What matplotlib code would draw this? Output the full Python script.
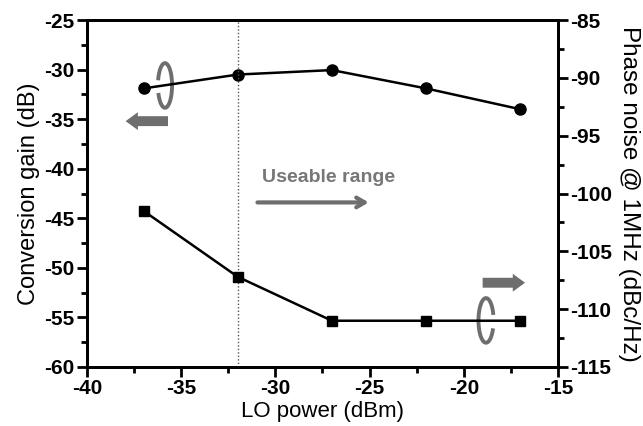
import numpy as np
import matplotlib
matplotlib.use("Agg")
import matplotlib.pyplot as plt
from matplotlib.patches import Arc, FancyArrow
from matplotlib.ticker import MultipleLocator

plt.rcParams['font.family'] = ['Liberation Sans', 'DejaVu Sans']
plt.rcParams['axes.unicode_minus'] = False

lo_power = [-37, -32, -27, -22, -17]
conv_gain = [-31.9, -30.5, -30.05, -31.9, -34.0]
phase_noise = [-101.5, -107.2, -111.0, -111.0, -111.0]

gray = '#6e6e6e'

fig = plt.figure(figsize=(6.43, 4.26), dpi=100)
ax = fig.add_axes([0.1353, 0.1385, 0.7325, 0.8145])
ax2 = ax.twinx()

ax.plot(lo_power, conv_gain, 'k-', marker='o', ms=8, lw=1.8)
ax2.plot(lo_power, phase_noise, 'k-', marker='s', ms=7.5, lw=1.8)

ax.axvline(-32, color='#555555', ls=(0, (1, 1.5)), lw=1)

ax.set_xlim(-40, -15)
ax.set_ylim(-60, -25)
ax2.set_ylim(-115, -85)

ax.xaxis.set_major_locator(MultipleLocator(5))
ax.xaxis.set_minor_locator(MultipleLocator(2.5))
ax.yaxis.set_major_locator(MultipleLocator(5))
ax.yaxis.set_minor_locator(MultipleLocator(2.5))
ax2.yaxis.set_major_locator(MultipleLocator(5))
ax2.yaxis.set_minor_locator(MultipleLocator(2.5))

for a in (ax, ax2):
    for s in a.spines.values():
        s.set_linewidth(2)
    a.tick_params(which='major', direction='out', length=7, width=2, labelsize=15, pad=2)
    a.tick_params(which='minor', direction='out', length=4, width=2)
    for lab in a.get_xticklabels() + a.get_yticklabels():
        lab.set_fontweight('bold')
ax.tick_params(axis='x', which='both', top=False)

ax.set_xlabel('LO power (dBm)', fontsize=16, labelpad=2)
ax.set_ylabel('Conversion gain (dB)', fontsize=17, labelpad=3)
ax2.set_ylabel('Phase noise @ 1MHz (dBc/Hz)', fontsize=17.5, rotation=270, labelpad=20)

# annotations
ax.add_patch(FancyArrow(-35.7, -35.2, -2.25, 0, width=1.0, head_width=1.8,
                        head_length=0.65, length_includes_head=True, color=gray, lw=0))
ax.add_patch(FancyArrow(-19.0, -51.5, 2.25, 0, width=1.0, head_width=1.8,
                        head_length=0.65, length_includes_head=True, color=gray, lw=0))
ax.add_patch(Arc((-35.86, -31.6), 0.75, 4.5, theta1=-115, theta2=125, color=gray, lw=2.8))
ax.add_patch(Arc((-18.82, -55.3), 0.8, 4.5, theta1=55, theta2=295, color=gray, lw=2.8))

ax.text(-30.7, -41.3, 'Useable range', color='#777777', fontsize=14, fontweight='bold')
ax.annotate('', xy=(-24.9, -43.4), xytext=(-31.1, -43.4),
            arrowprops=dict(arrowstyle='->,head_length=0.6,head_width=0.35', color=gray, lw=3))

fig.savefig('out.png', dpi=100)
